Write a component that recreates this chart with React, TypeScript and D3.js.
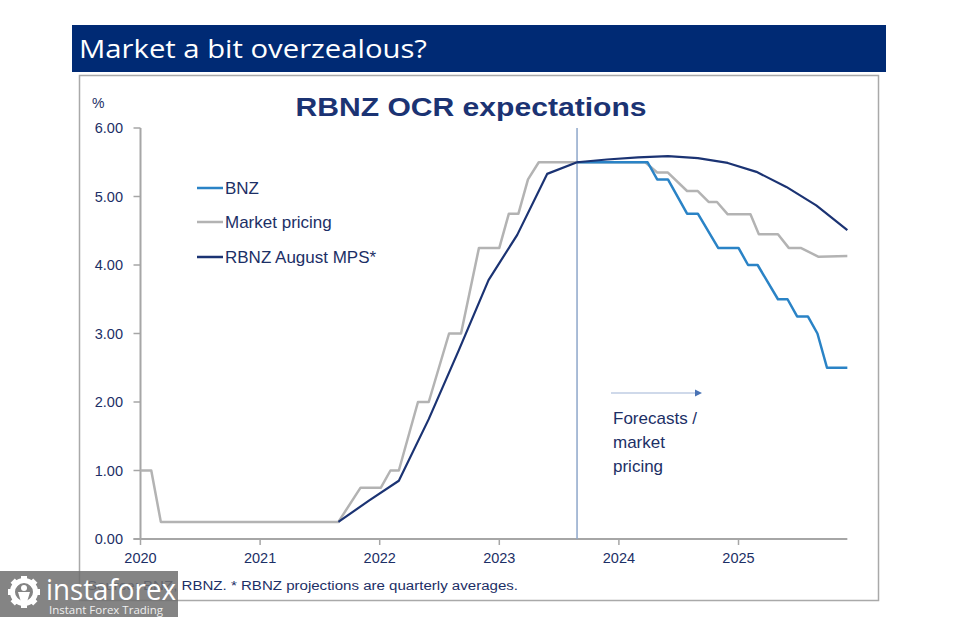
import React from "react";
import * as d3 from "d3";

const yearTicks = [2020, 2021, 2022, 2023, 2024, 2025];
const yTicks = [0, 1, 2, 3, 4, 5, 6];

const marketDates = [2020.0, 2020.09, 2020.17, 2021.655, 2021.84, 2022.01, 2022.09, 2022.16, 2022.32, 2022.41, 2022.58, 2022.68, 2022.83, 2023.0, 2023.08, 2023.16, 2023.24, 2023.33, 2024.22, 2024.32, 2024.41, 2024.57, 2024.66, 2024.75, 2024.82, 2024.91, 2025.1, 2025.17, 2025.33, 2025.42, 2025.52, 2025.67, 2025.91];
const marketValues = [1.0, 1.0, 0.25, 0.25, 0.75, 0.75, 1.0, 1.0, 2.0, 2.0, 3.0, 3.0, 4.25, 4.25, 4.75, 4.75, 5.25, 5.5, 5.5, 5.35, 5.35, 5.08, 5.08, 4.92, 4.92, 4.74, 4.74, 4.45, 4.45, 4.25, 4.25, 4.12, 4.13];

const bnzDates = [2023.65, 2024.24, 2024.32, 2024.41, 2024.57, 2024.66, 2024.83, 2025.0, 2025.08, 2025.16, 2025.33, 2025.41, 2025.49, 2025.58, 2025.66, 2025.74, 2025.91];
const bnzValues = [5.5, 5.5, 5.25, 5.25, 4.75, 4.75, 4.25, 4.25, 4.0, 4.0, 3.5, 3.5, 3.25, 3.25, 3.0, 2.5, 2.5];

const mpsDates = [2021.655, 2021.91, 2022.16, 2022.41, 2022.66, 2022.91, 2023.15, 2023.4, 2023.65, 2023.9, 2024.16, 2024.41, 2024.66, 2024.91, 2025.15, 2025.4, 2025.65, 2025.91];
const mpsValues = [0.25, 0.56, 0.85, 1.75, 2.75, 3.78, 4.44, 5.33, 5.5, 5.54, 5.57, 5.59, 5.56, 5.49, 5.36, 5.14, 4.87, 4.51];

const mpsDate = 2023.65;
const legendItems = ["BNZ", "Market pricing", "RBNZ August MPS*"];
const annotationLines = ["Forecasts /", "market", "pricing"];

const NAVY_TEXT = "#1c2f66";
const C_BNZ = "#2a83c6";
const C_MKT = "#b3b3b3";
const C_MPS = "#1b3373";
const C_AXIS = "#a6a6a6";

export default function App() {
  const x = d3.scaleLinear().domain([2020, 2026]).range([140.5, 140.5 + 6 * 119.6]);
  const y = d3.scaleLinear().domain([0, 6]).range([539, 128]);
  const line = d3
    .line<[number, number]>()
    .x((d) => x(d[0]))
    .y((d) => y(d[1]));
  const zip = (a: number[], b: number[]) => a.map((v, i) => [v, b[i]] as [number, number]);
  const xEnd = x(2025.91);
  const legendColors = [C_BNZ, C_MKT, C_MPS];
  const legendY = [188, 222, 257];

  const teeth = d3.range(8).map((i) => (i * 360) / 8);

  return (
    <svg width={957} height={617} style={{ position: "absolute", left: 0, top: 0, background: "#fff" }}>
      <rect x={0} y={0} width={957} height={617} fill="#fff" />
      {/* header */}
      <rect x={72} y={25} width={814} height={47} fill="#002a74" />
      <text x={79} y={58} fill="#fff" fontFamily="'Open Sans', 'Noto Sans', sans-serif" fontSize={26} textLength={348} lengthAdjust="spacingAndGlyphs">
        Market a bit overzealous?
      </text>
      {/* chart frame */}
      <rect x={79.5} y={75.5} width={799} height={525} fill="#fff" stroke="#a9a9a9" strokeWidth={1.5} />

      {/* title */}
      <text x={471} y={116} textAnchor="middle" fill={C_MPS} fontFamily="'Liberation Sans', Arial, sans-serif" fontWeight="bold" fontSize={26} textLength={351} lengthAdjust="spacingAndGlyphs">
        RBNZ OCR expectations
      </text>
      <text x={92} y={108} fill={NAVY_TEXT} fontFamily="'Liberation Sans', Arial, sans-serif" fontSize={14}>%</text>

      {/* axes */}
      <line x1={x(2020)} x2={x(2020)} y1={y(6)} y2={y(0)} stroke={C_AXIS} strokeWidth={2} />
      {yTicks.map((t) => (
        <g key={t}>
          <line x1={x(2020) - 7} x2={x(2020)} y1={y(t)} y2={y(t)} stroke={C_AXIS} strokeWidth={1.5} />
          <text x={123} y={y(t) + 5} textAnchor="end" fill={NAVY_TEXT} fontFamily="'Liberation Sans', Arial, sans-serif" fontSize={14.5}>
            {t.toFixed(2)}
          </text>
        </g>
      ))}
      <line x1={x(2020) - 7} x2={xEnd} y1={y(0)} y2={y(0)} stroke={C_AXIS} strokeWidth={2} />
      {yearTicks.map((t) => (
        <g key={t}>
          <line x1={x(t)} x2={x(t)} y1={y(0)} y2={y(0) + 6} stroke={C_AXIS} strokeWidth={1.5} />
          <text x={x(t)} y={y(0) + 24} textAnchor="middle" fill={NAVY_TEXT} fontFamily="'Liberation Sans', Arial, sans-serif" fontSize={14.5}>
            {t}
          </text>
        </g>
      ))}

      {/* vertical MPS line */}
      <line x1={x(mpsDate)} x2={x(mpsDate)} y1={y(6)} y2={y(0)} stroke="#8ea7ca" strokeWidth={1.5} />

      {/* series */}
      <path d={line(zip(marketDates, marketValues)) || ""} fill="none" stroke={C_MKT} strokeWidth={2.5} strokeLinejoin="round" />
      <path d={line(zip(bnzDates, bnzValues)) || ""} fill="none" stroke={C_BNZ} strokeWidth={2.5} strokeLinejoin="round" />
      <path d={line(zip(mpsDates, mpsValues)) || ""} fill="none" stroke={C_MPS} strokeWidth={2.2} strokeLinejoin="round" />

      {/* legend */}
      {legendItems.map((name, i) => (
        <g key={name}>
          <line x1={197} x2={223} y1={legendY[i]} y2={legendY[i]} stroke={legendColors[i]} strokeWidth={2.5} />
          <text x={225} y={legendY[i] + 6} fill={NAVY_TEXT} fontFamily="'Liberation Sans', Arial, sans-serif" fontSize={17}>
            {name}
          </text>
        </g>
      ))}

      {/* annotation */}
      <line x1={611} x2={696} y1={393} y2={393} stroke="#9fb3d6" strokeWidth={1.2} />
      <path d="M695,389.5 L702,393 L695,396.5 Z" fill="#4a73b5" />
      {annotationLines.map((t, i) => (
        <text key={t} x={613} y={424 + i * 24} fill={NAVY_TEXT} fontFamily="'Liberation Sans', Arial, sans-serif" fontSize={17}>
          {t}
        </text>
      ))}

      {/* footer */}
      <text x={87} y={590} fill={NAVY_TEXT} fontFamily="'Liberation Sans Narrow', 'Liberation Sans', Arial, sans-serif" fontSize={12.5} textLength={431} lengthAdjust="spacingAndGlyphs">
        Source: BNZ, RBNZ. * RBNZ projections are quarterly averages.
      </text>

      {/* watermark logo */}
      <rect x={0} y={571} width={178} height={46} fill="#6e6e6e" fillOpacity={0.85} />
      <g transform="translate(24,592)" fill="#fff">
        {teeth.map((a) => (
          <rect key={a} x={-3} y={-16} width={6} height={7} transform={`rotate(${a})`} />
        ))}
        <circle r={11.5} fill="none" stroke="#fff" strokeWidth={5} />
        <circle cx={0} cy={-4} r={3} />
        <path d="M-6,0 L6,0 L3,10 L-3,10 Z" />
      </g>
      <text x={46} y={600} fill="#fff" fontFamily="'Open Sans', 'Noto Sans', sans-serif" fontSize={29} textLength={130} lengthAdjust="spacingAndGlyphs">
        instaforex
      </text>
      <text x={49} y={614} fill="#f0f0f0" fontFamily="'Open Sans', 'Noto Sans', sans-serif" fontSize={10} textLength={114} lengthAdjust="spacingAndGlyphs">
        Instant Forex Trading
      </text>
    </svg>
  );
}
